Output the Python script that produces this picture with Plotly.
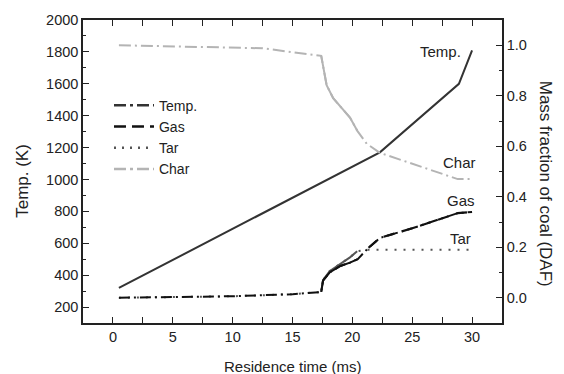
import plotly.graph_objects as go

# ---- data ----
temp_t = [0.5, 22.3, 28.9, 30.0]
temp_v = [320, 1170, 1600, 1810]

char_t = [0.5, 12.5, 17.4, 17.55, 17.85, 18.4, 19.25, 19.8, 20.4, 21.2, 22.3, 28.8, 30.0]
char_v = [1.0, 0.988, 0.958, 0.92, 0.842, 0.79, 0.746, 0.714, 0.662, 0.61, 0.574, 0.47, 0.47]

gas_t = [0.5, 5, 10, 15, 17.4, 17.55, 18.1, 19.0, 19.8, 20.45, 21.35, 22.3, 25.0, 28.8, 30.0]
gas_v = [0.0, 0.002, 0.006, 0.014, 0.023, 0.068, 0.10, 0.126, 0.139, 0.153, 0.198, 0.237, 0.275, 0.335, 0.34]

tar_t = [0.5, 5, 10, 15, 17.4, 17.55, 18.1, 19.0, 19.8, 20.4, 21.2, 30.0]
tar_v = [0.0, 0.002, 0.006, 0.014, 0.023, 0.07, 0.105, 0.135, 0.16, 0.184, 0.19, 0.19]

series_names = ["Temp.", "Gas", "Tar", "Char"]
x_title = "Residence time (ms)"
y_title = "Temp. (K)"
y2_title = "Mass fraction of coal (DAF)"

FONT = "Arial, Liberation Sans, sans-serif"
C_TEMP = "#333333"
C_GAS = "#111111"
C_TAR = "#555555"
C_CHAR = "#b4b4b4"

fig = go.Figure()

# temperature (drawn solid in the plot)
fig.add_trace(go.Scatter(x=temp_t, y=temp_v, mode="lines", showlegend=False,
                         line=dict(color=C_TEMP, width=2)))
# char
fig.add_trace(go.Scatter(x=char_t, y=char_v, yaxis="y2", mode="lines", showlegend=False,
                         line=dict(color=C_CHAR, width=2, dash="12px,4px,2px,4px")))
fig.add_trace(go.Scatter(x=char_t[2:9], y=char_v[2:9], yaxis="y2", mode="lines", showlegend=False,
                         line=dict(color=C_CHAR, width=2)))
# tar
fig.add_trace(go.Scatter(x=tar_t, y=tar_v, yaxis="y2", mode="lines", showlegend=False,
                         line=dict(color=C_TAR, width=2, dash="2px,7px")))
fig.add_trace(go.Scatter(x=tar_t[4:10], y=tar_v[4:10], yaxis="y2", mode="lines", showlegend=False,
                         line=dict(color=C_TAR, width=2)))
# gas
fig.add_trace(go.Scatter(x=gas_t, y=gas_v, yaxis="y2", mode="lines", showlegend=False,
                         line=dict(color=C_GAS, width=2, dash="11px,4px,2px,4px")))
fig.add_trace(go.Scatter(x=gas_t[4:10], y=gas_v[4:10], yaxis="y2", mode="lines", showlegend=False,
                         line=dict(color=C_GAS, width=2)))
fig.add_trace(go.Scatter(x=gas_t[10:], y=gas_v[10:], yaxis="y2", mode="lines", showlegend=False,
                         line=dict(color=C_GAS, width=2.2, dash="11px,8px")))

# legend entries
leg_styles = [
    (C_TEMP, "12px,4px,3px,4px"),
    (C_GAS, "12px,6px"),
    (C_TAR, "2px,6px"),
    (C_CHAR, "12px,4px,3px,4px"),
]
for name, (c, d) in zip(series_names, leg_styles):
    fig.add_trace(go.Scatter(x=[None], y=[None], mode="lines", name=name,
                             line=dict(color=c, width=2.5, dash=d)))

axis_common = dict(showline=True, linecolor="#222", linewidth=1.5, ticks="inside",
                   ticklen=6, tickwidth=1.2, tickcolor="#222", showgrid=False, zeroline=False,
                   tickfont=dict(family=FONT, size=14.5, color="#222"))

fig.update_layout(
    width=564, height=374,
    margin=dict(l=83, r=62, t=14, b=51),
    paper_bgcolor="white", plot_bgcolor="white",
    font=dict(family=FONT, color="#222"),
    xaxis=dict(range=[-2.5, 32.5], tickvals=[0, 5, 10, 15, 20, 25, 30], mirror="allticks",
               minor=dict(ticks="inside", ticklen=3.5, tickwidth=1.2, tickcolor="#222", dtick=2.5, tick0=0),
               **axis_common),
    yaxis=dict(range=[100, 2000], tickvals=list(range(200, 2001, 200)),
               minor=dict(ticks="inside", ticklen=3.5, tickwidth=1.2, tickcolor="#222", dtick=100, tick0=0),
               **axis_common),
    yaxis2=dict(range=[-0.1, 1.1], overlaying="y", side="right", anchor="x",
                tickvals=[0, 0.2, 0.4, 0.6, 0.8, 1.0], tickformat=".1f",
                minor=dict(ticks="inside", ticklen=3.5, tickwidth=1.2, tickcolor="#222", dtick=0.1, tick0=0),
                **axis_common),
    legend=dict(x=0.062, y=0.770, xanchor="left", yanchor="top", bgcolor="rgba(0,0,0,0)",
                font=dict(family=FONT, size=14, color="#222"), itemwidth=40,
                tracegroupgap=0),
    showlegend=True,
)

ann = [
    dict(text=x_title, x=0.5, y=-0.108, xref="paper", yref="paper", xanchor="center", yanchor="top",
         showarrow=False, font=dict(size=15)),
    dict(text=y_title, x=23, y=178, showarrow=False, textangle=-90, font=dict(size=17)),
    dict(text=y2_title, x=545, y=181, showarrow=False, textangle=90, font=dict(size=17)),
    dict(text="Temp.", x=27.4, y=1800, xref="x", yref="y", showarrow=False, font=dict(size=15)),
    dict(text="Char", x=28.93, y=0.535, xref="x", yref="y2", showarrow=False, font=dict(size=15)),
    dict(text="Gas", x=29.07, y=0.385, xref="x", yref="y2", showarrow=False, font=dict(size=15)),
    dict(text="Tar", x=29.05, y=0.235, xref="x", yref="y2", showarrow=False, font=dict(size=15)),
]
# convert pixel-positioned titles to paper coords
pw, ph = 564 - 83 - 62, 374 - 14 - 51
for a in ann[1:3]:
    a["x"] = (a["x"] - 83) / pw
    a["y"] = 1 - (a["y"] - 14) / ph
    a["xref"] = "paper"
    a["yref"] = "paper"
    a["xanchor"] = "center"
    a["yanchor"] = "middle"
    a["font"]["family"] = FONT
fig.update_layout(annotations=ann)

fig.write_html("out.html")
